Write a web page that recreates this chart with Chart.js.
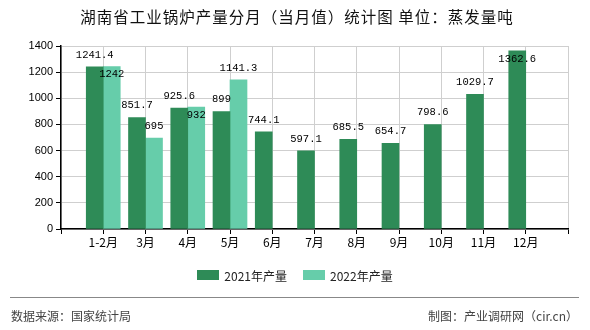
<!DOCTYPE html>
<html><head><meta charset="utf-8">
<script src="https://cdn.jsdelivr.net/npm/chart.js@4/dist/chart.umd.min.js"></script>
<style>
html,body{margin:0;padding:0;background:#fff;}
#wrap{position:relative;width:590px;height:330px;overflow:hidden;font-family:"Noto Sans CJK SC","Noto Sans",sans-serif;}
#c{position:absolute;left:0;top:0;}
.t{position:absolute;white-space:nowrap;}
#title{left:0;width:594px;top:5px;text-align:center;font-size:15.5px;color:#111;letter-spacing:1px;}
#legend{left:0;width:590px;top:266px;text-align:center;font-size:12px;color:#222;}
.lg{display:inline-flex;align-items:center;margin:0 8px;}
.sw{display:inline-block;width:22px;height:10px;margin-right:5px;}
#sep{position:absolute;left:10px;width:569px;top:297px;height:1px;background:#888;}
#src{left:11px;top:307px;font-size:12px;color:#444;}
#mk{right:12px;top:307px;font-size:12px;color:#444;}
</style></head>
<body><div id="wrap">
<canvas id="c" width="590" height="330"></canvas>
<div class="t" id="title">湖南省工业锅炉产量分月（当月值）统计图 单位：蒸发量吨</div>
<div class="t" id="legend"><span class="lg"><span class="sw" style="background:#2E8B57"></span>2021年产量</span><span class="lg"><span class="sw" style="background:#66CDAA"></span>2022年产量</span></div>
<div id="sep"></div>
<div class="t" id="src">数据来源：国家统计局</div>
<div class="t" id="mk">制图：产业调研网（cir.cn）</div>
</div>
<script>
const categories = ['1-2月','3月','4月','5月','6月','7月','8月','9月','10月','11月','12月'];
const series2021 = [1241.4, 851.7, 925.6, 899, 744.1, 597.1, 685.5, 654.7, 798.6, 1029.7, 1362.6];
const series2022 = [1242, 695, 932, 1141.3];
const seriesNames = ['2021年产量','2022年产量'];
const yTicks = [0,200,400,600,800,1000,1200,1400];

function toPoints(arr){ return arr.map((v,i)=>({x:i+1,y:v})); }

const labelPlugin = {
  id:'vlabels',
  afterDatasetsDraw(chart){
    const ctx = chart.ctx;
    const area = chart.chartArea;
    ctx.save();
    ctx.font = '10.5px "Liberation Mono", "DejaVu Sans Mono", monospace';
    ctx.fillStyle = '#000';
    ctx.textAlign = 'center';
    ctx.textBaseline = 'middle';
    const m0 = chart.getDatasetMeta(0), m1 = chart.getDatasetMeta(1);
    const placed0 = [];
    m0.data.forEach((el,i)=>{
      let y = el.y - 12;
      if (y - 6 < area.top) y = el.y + 8;
      placed0[i] = y;
      ctx.fillText(String(chart.data.datasets[0].data[i].y), el.x, y);
    });
    m1.data.forEach((el,i)=>{
      let y = el.y - 12;
      if (placed0[i] !== undefined && Math.abs(placed0[i] - y) < 14) y = el.y + 8;
      if (y - 6 < area.top) y = el.y + 8;
      ctx.fillText(String(chart.data.datasets[1].data[i].y), el.x, y);
    });
    ctx.restore();
  }
};

new Chart(document.getElementById('c'), {
  type:'bar',
  data:{
    datasets:[
      {label:seriesNames[0], data:toPoints(series2021), backgroundColor:'#2E8B57', barThickness:17},
      {label:seriesNames[1], data:toPoints(series2022), backgroundColor:'#66CDAA', barThickness:17}
    ]
  },
  options:{
    responsive:false, animation:false,
    layout:{padding:{top:46,right:22,bottom:81,left:0}},
    plugins:{legend:{display:false}, title:{display:false}, tooltip:{enabled:false}},
    scales:{
      x:{
        type:'linear', min:0, max:categories.length+1, offset:false,
        afterFit(s){ s.height = 20; },
        afterBuildTicks(s){ s.ticks = Array.from({length:categories.length+2},(_,i)=>({value:i})); },
        ticks:{ autoSkip:false, maxRotation:0, padding:1, color:'#000',
          font:{family:'"Noto Sans CJK SC", sans-serif', size:12},
          callback:(v)=> categories[v-1] || '' },
        grid:{ offset:false, color:'#cfcfcf', tickColor:'#000', tickLength:5, drawOnChartArea:true },
        border:{ color:'#000', width:1.5 }
      },
      y:{
        min:0, max:1400,
        afterFit(s){ s.width = 61; },
        afterBuildTicks(s){ s.ticks = yTicks.map(v=>({value:v})); },
        ticks:{ color:'#000', padding:3, font:{family:'"Liberation Sans", sans-serif', size:11},
          callback:(v)=> String(v) },
        grid:{ color:'#cfcfcf', tickColor:'#000', tickLength:5 },
        border:{ color:'#000', width:1.5 }
      }
    }
  },
  plugins:[labelPlugin]
});
</script>
</body></html>
